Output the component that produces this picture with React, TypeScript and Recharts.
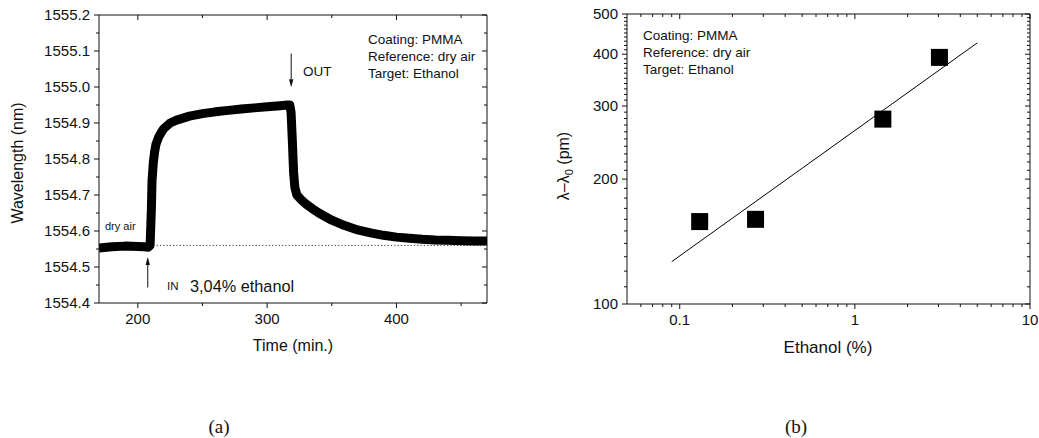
import React from "react";
import {
  LineChart,
  Line,
  ComposedChart,
  Scatter,
  XAxis,
  YAxis,
  ReferenceLine,
} from "recharts";

// (a) time response, wavelength vs time
const timeMin = [
  170, 180, 190, 200, 205, 208, 209.5, 210.5, 211, 212, 213, 214, 216, 218, 220,
  225, 230, 240, 250, 260, 270, 280, 290, 300, 310, 316, 317.5, 318.5, 319.5,
  320.5, 321.5, 323, 326, 330, 335, 340, 350, 360, 370, 380, 390, 400, 410, 420,
  430, 440, 450, 460, 470,
];
const wavelengthNm = [
  1554.553, 1554.556, 1554.558, 1554.557, 1554.556, 1554.555, 1554.56, 1554.66,
  1554.74, 1554.79, 1554.82, 1554.84, 1554.86, 1554.873, 1554.884, 1554.9,
  1554.908, 1554.919, 1554.926, 1554.931, 1554.935, 1554.939, 1554.942,
  1554.945, 1554.948, 1554.95, 1554.95, 1554.93, 1554.85, 1554.76, 1554.72,
  1554.7, 1554.688, 1554.675, 1554.662, 1554.65, 1554.63, 1554.615, 1554.603,
  1554.595, 1554.588, 1554.583, 1554.58, 1554.577, 1554.575, 1554.574,
  1554.573, 1554.572, 1554.572,
];
const baselineRef = [
  { t: 214.5, v: 1554.56 },
  { t: 470, v: 1554.56 },
];
const timeTicks = [200, 250, 300, 350, 400, 450];
const timeLabels = [200, 300, 400];
const wlTicks = [
  1554.4, 1554.45, 1554.5, 1554.55, 1554.6, 1554.65, 1554.7, 1554.75, 1554.8,
  1554.85, 1554.9, 1554.95, 1555.0, 1555.05, 1555.1, 1555.15, 1555.2,
];
const wlLabels = [
  1554.4, 1554.5, 1554.6, 1554.7, 1554.8, 1554.9, 1555.0, 1555.1, 1555.2,
];

// (b) shift vs ethanol concentration (log-log)
const ethanolPct = [0.13, 0.271, 1.445, 3.04];
const shiftPm = [158, 160, 279, 393];
const fitLine = [
  { x: 0.09, y: 126.5 },
  { x: 5, y: 426 },
];
const ethTicks = [
  0.06, 0.07, 0.08, 0.09, 0.1, 0.2, 0.3, 0.4, 0.5, 0.6, 0.7, 0.8, 0.9, 1, 2, 3,
  4, 5, 6, 7, 8, 9, 10,
];
const ethLabels = [0.1, 1, 10];
const shiftTicks = [
  100, 110, 120, 130, 140, 150, 160, 170, 180, 190, 200, 210, 220, 230, 240,
  250, 260, 270, 280, 290, 300, 310, 320, 330, 340, 350, 360, 370, 380, 390,
  400, 410, 420, 430, 440, 450, 460, 470, 480, 490, 500,
];
const shiftLabels = [100, 200, 300, 400, 500];

const responseData = timeMin.map((t, i) => ({ t, v: wavelengthNm[i] }));
const pointData = ethanolPct.map((x, i) => ({ x, y: shiftPm[i] }));

const FONT = '"Liberation Sans", Arial, sans-serif';
const INK = "#111";

const isLabel = (v: number, labels: number[]) =>
  labels.some((l) => Math.abs(l - v) < 1e-6);

// draws tick marks itself (axis uses tickSize 0), labels only on majors
const makeTick =
  (side: "bottom" | "left" | "top" | "right", labels: number[], fmt: (v: number) => string, showText: boolean) =>
  (props: any) => {
    const { x, y, payload } = props;
    const v = payload.value as number;
    const major = isLabel(v, labels);
    const len = major ? 5 : 3;
    let line;
    if (side === "bottom") line = <line x1={x} y1={y} x2={x} y2={y + len} />;
    else if (side === "top") line = <line x1={x} y1={y} x2={x} y2={y + len} />;
    else if (side === "left") line = <line x1={x} y1={y} x2={x - len} y2={y} />;
    else line = <line x1={x} y1={y} x2={x - len} y2={y} />;
    return (
      <g>
        <g stroke={INK} strokeWidth={1}>{line}</g>
        {showText && major && side === "bottom" && (
          <text x={x} y={y + 21} textAnchor="middle" fontSize={15} fontFamily={FONT} fill={INK}>
            {fmt(v)}
          </text>
        )}
        {showText && major && side === "left" && (
          <text x={x - 9} y={y + 5} textAnchor="end" fontSize={15} fontFamily={FONT} fill={INK}>
            {fmt(v)}
          </text>
        )}
      </g>
    );
  };

const Arrow = (props: any) => {
  const { x1, y1, x2, y2 } = props;
  const dx = x2 - x1;
  const dy = y2 - y1;
  const len = Math.hypot(dx, dy) || 1;
  const ux = dx / len;
  const uy = dy / len;
  const bx = x2 - ux * 8;
  const by = y2 - uy * 8;
  return (
    <g>
      <line x1={x1} y1={y1} x2={bx} y2={by} stroke={INK} strokeWidth={1} />
      <path
        d={`M${x2},${y2} L${bx - uy * 2.2},${by + ux * 2.2} L${bx + uy * 2.2},${by - ux * 2.2} Z`}
        fill={INK}
      />
    </g>
  );
};

const Square = (props: any) => {
  const { cx, cy } = props;
  if (cx == null || cy == null) return null;
  return <rect x={cx - 8.5} y={cy - 8.5} width={17} height={17} fill="#000" />;
};

const axisLine = { stroke: INK, strokeWidth: 1 };

export default function App() {
  const f1 = (v: number) => v.toFixed(1);
  const fInt = (v: number) => String(v);
  return (
    <div style={{ position: "absolute", left: 0, top: 0, width: 1039, height: 438, background: "#fff" }}>
      <div style={{ position: "absolute", left: 0, top: 0 }}>
        <LineChart
          width={500}
          height={330}
          data={responseData}
          margin={{ top: 14, right: 12, left: 39, bottom: 0 }}
        >
          <XAxis
            dataKey="t"
            type="number"
            domain={[170, 470]}
            allowDataOverflow
            ticks={timeTicks}
            tickSize={0}
            tickMargin={0}
            tickLine={false}
            axisLine={axisLine}
            height={27}
            interval={0}
            tick={makeTick("bottom", timeLabels, fInt, true)}
          />
          <XAxis
            xAxisId="top"
            orientation="top"
            dataKey="t"
            type="number"
            domain={[170, 470]}
            allowDataOverflow
            ticks={timeTicks}
            tickSize={0}
            tickMargin={0}
            tickLine={false}
            axisLine={axisLine}
            height={1}
            interval={0}
            tick={makeTick("top", timeLabels, fInt, false)}
          />
          <YAxis
            type="number"
            domain={[1554.4, 1555.2]}
            allowDataOverflow
            ticks={wlTicks}
            tickSize={0}
            tickMargin={0}
            tickLine={false}
            axisLine={axisLine}
            width={60}
            interval={0}
            tick={makeTick("left", wlLabels, f1, true)}
          />
          <YAxis
            yAxisId="right"
            orientation="right"
            type="number"
            domain={[1554.4, 1555.2]}
            allowDataOverflow
            ticks={wlTicks}
            tickSize={0}
            tickMargin={0}
            tickLine={false}
            axisLine={axisLine}
            width={1}
            interval={0}
            tick={makeTick("right", wlLabels, f1, false)}
          />
          <Line
            data={baselineRef}
            dataKey="v"
            stroke="#444"
            strokeWidth={1}
            strokeDasharray="1.3 2"
            dot={false}
            isAnimationActive={false}
          />
          <Line
            dataKey="v"
            type="linear"
            stroke="#000"
            strokeWidth={9}
            strokeLinejoin="round"
            dot={false}
            isAnimationActive={false}
          />
          <ReferenceLine
            segment={[
              { x: 207.7, y: 1554.443 },
              { x: 207.7, y: 1554.528 },
            ]}
            shape={Arrow}
          />
          <ReferenceLine
            segment={[
              { x: 318.6, y: 1555.093 },
              { x: 318.6, y: 1554.999 },
            ]}
            shape={Arrow}
          />
        </LineChart>
      </div>

      <div style={{ position: "absolute", left: 540, top: 0 }}>
        <ComposedChart
          width={499}
          height={330}
          margin={{ top: 13, right: 8, left: 27, bottom: 0 }}
        >
          <XAxis
            dataKey="x"
            type="number"
            scale="log"
            domain={[0.05, 10]}
            allowDataOverflow
            ticks={ethTicks}
            tickSize={0}
            tickMargin={0}
            tickLine={false}
            axisLine={axisLine}
            height={26}
            interval={0}
            tick={makeTick("bottom", ethLabels, fInt, true)}
          />
          <XAxis
            xAxisId="top"
            orientation="top"
            dataKey="x"
            type="number"
            scale="log"
            domain={[0.05, 10]}
            allowDataOverflow
            ticks={ethTicks}
            tickSize={0}
            tickMargin={0}
            tickLine={false}
            axisLine={axisLine}
            height={1}
            interval={0}
            tick={makeTick("top", ethLabels, fInt, false)}
          />
          <YAxis
            dataKey="y"
            type="number"
            scale="log"
            domain={[100, 500]}
            allowDataOverflow
            ticks={shiftTicks}
            tickSize={0}
            tickMargin={0}
            tickLine={false}
            axisLine={axisLine}
            width={60}
            interval={0}
            tick={makeTick("left", shiftLabels, fInt, true)}
          />
          <YAxis
            yAxisId="right"
            orientation="right"
            dataKey="y"
            type="number"
            scale="log"
            domain={[100, 500]}
            allowDataOverflow
            ticks={shiftTicks}
            tickSize={0}
            tickMargin={0}
            tickLine={false}
            axisLine={axisLine}
            width={1}
            interval={0}
            tick={makeTick("right", shiftLabels, fInt, false)}
          />
          <Scatter
            data={fitLine}
            line={{ stroke: "#000", strokeWidth: 1 }}
            shape={() => <g />}
            isAnimationActive={false}
          />
          <Scatter data={pointData} shape={Square} isAnimationActive={false} />
        </ComposedChart>
      </div>

      <svg
        width={1039}
        height={438}
        style={{ position: "absolute", left: 0, top: 0, pointerEvents: "none" }}
        fontFamily={FONT}
        fill={INK}
      >
        {/* panel (a) */}
        <text x={0} y={0} fontSize={16} textAnchor="middle" transform="translate(23,163) rotate(-90)">
          Wavelength (nm)
        </text>
        <text x={293} y={351} fontSize={16} textAnchor="middle">Time (min.)</text>
        <text x={368} y={44} fontSize={13.5}>Coating: PMMA</text>
        <text x={368} y={61} fontSize={13.5}>Reference: dry air</text>
        <text x={368} y={78} fontSize={13.5}>Target: Ethanol</text>
        <text x={303} y={76} fontSize={13.5}>OUT</text>
        <text x={105} y={230} fontSize={11}>dry air</text>
        <text x={167} y={290} fontSize={11.5}>IN</text>
        <text x={190} y={292} fontSize={16.3}>3,04% ethanol</text>
        <text x={219} y={433} fontSize={19} textAnchor="middle" fontFamily='"Liberation Serif", "Times New Roman", serif'>(a)</text>

        {/* panel (b) */}
        <text x={0} y={0} fontSize={16} textAnchor="middle" transform="translate(569,166) rotate(-90)">
          λ–λ<tspan fontSize={11} dy={4}>0</tspan>
          <tspan dy={-4}> (pm)</tspan>
        </text>
        <text x={828} y={353} fontSize={17} textAnchor="middle">Ethanol (%)</text>
        <text x={643} y={40} fontSize={13.5}>Coating: PMMA</text>
        <text x={643} y={57} fontSize={13.5}>Reference: dry air</text>
        <text x={643} y={74} fontSize={13.5}>Target: Ethanol</text>
        <text x={796} y={433} fontSize={19} textAnchor="middle" fontFamily='"Liberation Serif", "Times New Roman", serif'>(b)</text>
      </svg>
    </div>
  );
}
